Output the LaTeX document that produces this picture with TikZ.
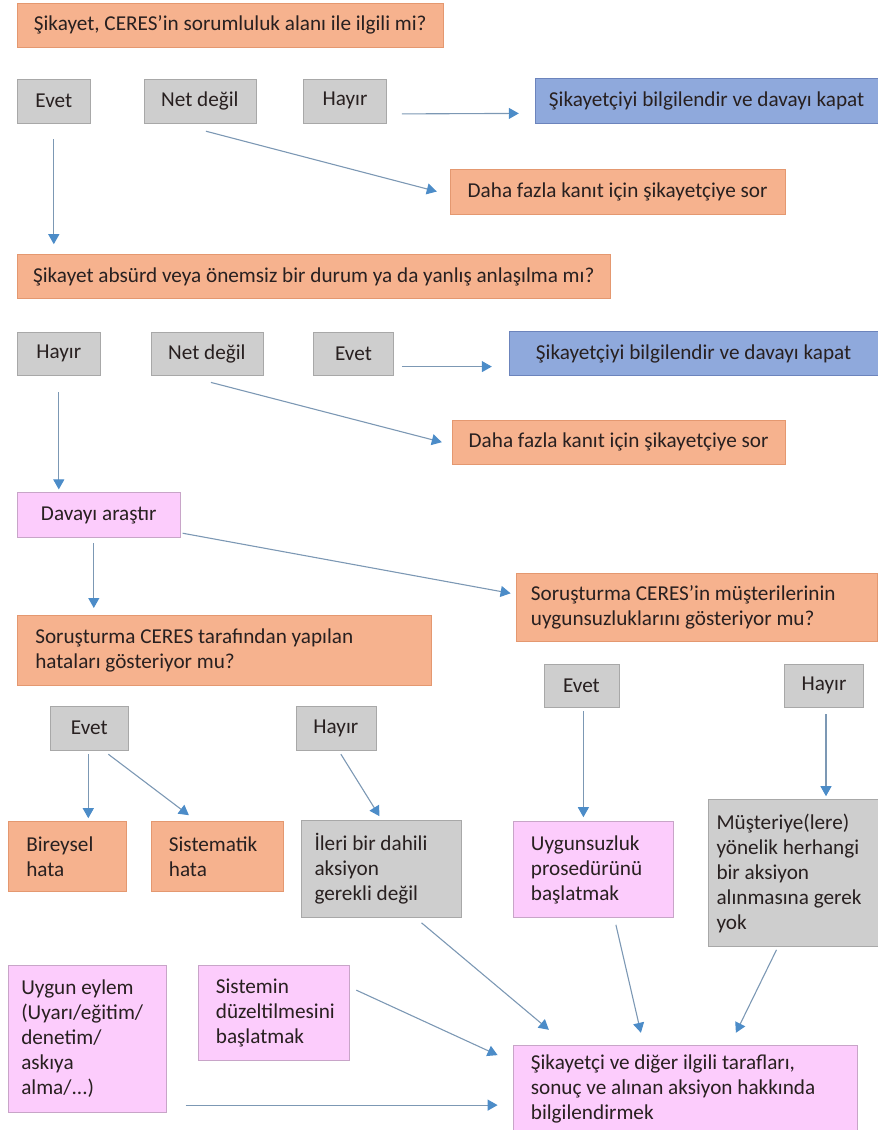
\documentclass[tikz,border=0pt]{standalone}
\usepackage{fontspec}
\setmainfont{Carlito}
\usetikzlibrary{positioning, calc, arrows.meta}
\definecolor{turuncu}{RGB}{246,178,142}
\definecolor{turuncuk}{RGB}{228,152,112}
\definecolor{gri}{RGB}{206,206,206}
\definecolor{grik}{RGB}{168,168,168}
\definecolor{mavi}{RGB}{143,169,220}
\definecolor{mavik}{RGB}{108,132,188}
\definecolor{pembe}{RGB}{252,204,252}
\definecolor{pembek}{RGB}{200,165,200}
\definecolor{okrenk}{RGB}{124,152,180}
\definecolor{ucrenk}{RGB}{76,140,200}
\definecolor{yazi}{RGB}{40,32,32}
\tikzset{
	kutu/.style={rectangle, text=yazi, font=\fontsize{21.2}{25}\selectfont, inner sep=0pt, line width=0.6pt},
	soru/.style={kutu, fill=turuncu, draw=turuncuk},
	cevap/.style={kutu, fill=gri, draw=grik, align=center},
	bilgi/.style={kutu, fill=mavi, draw=mavik},
	eylem/.style={kutu, fill=pembe, draw=pembek},
	notr/.style={kutu, fill=gri, draw=grik},
	sol/.style={align=flush left, text width=#1},
	ok/.style={draw=okrenk, line width=1.1pt, -{Triangle[length=10pt, width=11pt, color=ucrenk]}}
}

\begin{document}
\begin{tikzpicture}[x=1pt, y=1pt]
	\useasboundingbox (0,0) rectangle (878,-1130);
	% ilk soru
	\node (q1) [soru, anchor=north west, minimum width=426pt, minimum height=44pt] at (17,-3) {Şikayet, CERES’in sorumluluk alanı ile ilgili mi?};
	\node (evetA) [cevap, below=31pt of q1.south west, anchor=north west, minimum width=73pt, minimum height=44pt] {Evet};
	\node (netA) [cevap, right=53pt of evetA, minimum width=112pt, minimum height=44pt] {Net değil};
	\node (hayirA) [cevap, right=47pt of netA, minimum width=83pt, minimum height=44pt] {Hayır};
	\node (kapatA) [bilgi, right=148pt of hayirA, minimum width=343pt, minimum height=45pt] {Şikayetçiyi bilgilendir ve davayı kapat};
	\node (dahaA) [soru, below=45pt of kapatA.south west, anchor=north west, xshift=-85pt, minimum width=335pt, minimum height=45pt] {Daha fazla kanıt için şikayetçiye sor};
	% ikinci soru
	\node (q2) [soru, below=131pt of evetA.south west, anchor=north west, minimum width=593pt, minimum height=44pt] {Şikayet absürd veya önemsiz bir durum ya da yanlış anlaşılma mı?};
	\node (hayirB) [cevap, below=33pt of q2.south west, anchor=north west, minimum width=83pt, minimum height=43pt] {Hayır};
	\node (netB) [cevap, right=50pt of hayirB, minimum width=112pt, minimum height=43pt] {Net değil};
	\node (evetB) [cevap, right=50pt of netB, minimum width=80pt, minimum height=43pt] {Evet};
	\node (kapatB) [bilgi, right=115pt of evetB, minimum width=369pt, minimum height=44pt] {Şikayetçiyi bilgilendir ve davayı kapat};
	\node (dahaB) [soru, below=44pt of kapatB.south west, anchor=north west, xshift=-57pt, minimum width=333pt, minimum height=44pt] {Daha fazla kanıt için şikayetçiye sor};
	% soruşturma
	\node (arastir) [eylem, below=117pt of hayirB.south west, anchor=north west, minimum width=163pt, minimum height=45pt] {Davayı araştır};
	\node (q3) [soru, sol=378pt, below=77pt of arastir.south west, anchor=north west, inner xsep=18pt, minimum height=70pt] {Soruşturma CERES tarafından yapılan\\hataları gösteriyor mu?};
	\node (q4) [soru, sol=331pt, below=35pt of arastir.south east, anchor=north west, xshift=335pt, inner xsep=15pt, minimum height=68pt] {Soruşturma CERES’in müşterilerinin\\uygunsuzluklarını gösteriyor mu?};
	\node (evetC) [cevap, below=20pt of q3.south west, anchor=north west, xshift=33pt, minimum width=78pt, minimum height=44pt] {Evet};
	\node (hayirC) [cevap, right=167pt of evetC, minimum width=80pt, minimum height=44pt] {Hayır};
	\node (evetD) [cevap, below=22pt of q4.south west, anchor=north west, xshift=28pt, minimum width=75pt, minimum height=43pt] {Evet};
	\node (hayirD) [cevap, right=165pt of evetD, minimum width=79pt, minimum height=43pt] {Hayır};
	% sonuçlar
	\node (bireysel) [soru, sol=82pt, below=71pt of evetC.south west, anchor=north west, xshift=-42pt, inner xsep=18pt, minimum height=70pt] {Bireysel\\hata};
	\node (sistematik) [soru, sol=96pt, right=24pt of bireysel, inner xsep=18pt, minimum height=70pt] {Sistematik\\hata};
	\node (ileri) [notr, sol=134pt, right=18pt of sistematik.north east, anchor=north west, yshift=1pt, inner xsep=13pt, minimum height=97pt] {İleri bir dahili\\aksiyon\\gerekli değil};
	\node (uygunsuz) [eylem, sol=124pt, below=114pt of evetD.south west, anchor=north west, xshift=-31pt, inner xsep=18pt, minimum height=96pt] {Uygunsuzluk\\prosedürünü\\başlatmak};
	\node (musteri) [notr, sol=155pt, below=92pt of hayirD.south west, anchor=north west, xshift=-76pt, inner xsep=8pt, minimum height=147pt] {Müşteriye(lere)\\yönelik herhangi\\bir aksiyon\\alınmasına gerek\\yok};
	\node (uygun) [eylem, sol=132pt, below=73pt of bireysel.south west, anchor=north west, inner xsep=13pt, minimum height=147pt] {Uygun eylem\\(Uyarı/eğitim/\\denetim/\\askıya\\alma/...)};
	\node (sistemin) [eylem, sol=115pt, right=31pt of uygun.north east, anchor=north west, inner xsep=18pt, minimum height=95pt] {Sistemin\\düzeltilmesini\\başlatmak};
	\node (son) [eylem, sol=308pt, below=127pt of uygunsuz.south west, anchor=north west, inner xsep=18pt, minimum height=87pt] {Şikayetçi ve diğer ilgili tarafları,\\sonuç ve alınan aksiyon hakkında\\bilgilendirmek};
	% oklar
	\draw [ok] ($(hayirA.east)+(15pt,-13pt)$) -- ($(kapatA.west)+(-16pt,-12.5pt)$);
	\draw [ok] ($(netA.south)+(6pt,-8pt)$) -- ($(dahaA.west)+(-13pt,0pt)$);
	\draw [ok] ($(evetA.south)+(0pt,-16pt)$) -- ($(evetA.south |- q2.north)+(0pt,10pt)$);
	\draw [ok] ($(evetB.east)+(8pt,-13pt)$) -- ($(kapatB.west)+(-17pt,-13pt)$);
	\draw [ok] ($(netB.south)+(4pt,-7pt)$) -- ($(dahaB.west)+(-10pt,0pt)$);
	\draw [ok] ($(hayirB.south)+(0pt,-17pt)$) -- ($(hayirB.south |- arastir.north)+(0pt,3pt)$);
	\draw [ok] ($(arastir.east)+(2pt,-18pt)$) -- ($(q4.west)+(-5pt,14pt)$);
	\draw [ok] ($(arastir.south)+(-5pt,-5pt)$) -- ($(arastir.south |- q3.north)+(-5pt,7pt)$);
	\draw [ok] ($(evetC.south)+(-1pt,-4pt)$) -- ($(evetC.south |- bireysel.north)+(-1pt,3pt)$);
	\draw [ok] ($(evetC.south)+(19pt,-4pt)$) -- ($(sistematik.north)+(-28pt,6pt)$);
	\draw [ok] ($(hayirC.south)+(5pt,-4pt)$) -- ($(ileri.north)+(-2pt,4pt)$);
	\draw [ok] ($(evetD.south)+(2pt,-4pt)$) -- ($(evetD.south |- uygunsuz.north)+(2pt,4pt)$);
	\draw [ok] ($(hayirD.south)+(2pt,-7pt)$) -- ($(hayirD.south |- musteri.north)+(2pt,3pt)$);
	\draw [ok] ($(ileri.south)+(40pt,-5pt)$) -- ($(son.north)+(-136pt,15pt)$);
	\draw [ok] ($(uygunsuz.south)+(23pt,-7pt)$) -- ($(son.north)+(-44pt,12pt)$);
	\draw [ok] ($(musteri.south)+(-17.5pt,-3pt)$) -- ($(son.north)+(51pt,12pt)$);
	\draw [ok] ($(sistemin.east)+(7pt,22.5pt)$) -- ($(son.west)+(-15pt,33.5pt)$);
	\draw [ok] ($(uygun.east)+(19pt,-66.5pt)$) -- ($(son.west)+(-15pt,-16.5pt)$);
\end{tikzpicture}
\end{document}
